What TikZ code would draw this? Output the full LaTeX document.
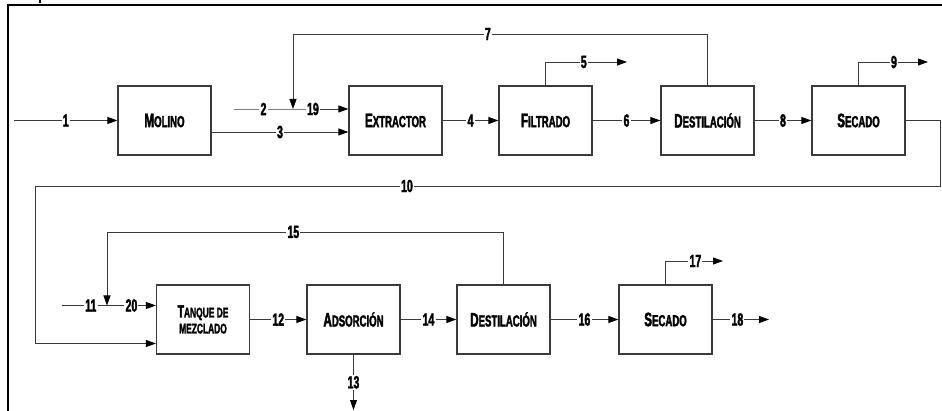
\documentclass[tikz,border=0pt]{standalone}
\usepackage{fontspec}
\usetikzlibrary{arrows.meta,calc}
\newfontfamily\lblfont[FakeStretch=0.6, BoldFeatures={FakeBold=2}]{Liberation Sans}
% small-capital letters of the unit names
\newcommand\smc[1]{{\fontsize{16}{16}\selectfont #1}}
\newcommand\smct[1]{{\fontsize{14}{16}\selectfont #1}}
\definecolor{linegray}{HTML}{3A3A3A}
\tikzset{
  unit/.style={draw=linegray, line width=1.2pt, minimum width=93pt, minimum height=69pt,
    inner sep=0pt, align=center, font=\lblfont\bfseries\fontsize{19.5}{16}\selectfont},
  lab/.style={fill=white, inner sep=1.2pt, text=black,
    font=\lblfont\bfseries\fontsize{17.5}{16}\selectfont},
  flow/.style={draw=linegray, line width=0.9pt, -{Triangle[length=10pt,width=7pt,color=black]}},
}
\begin{document}
\begin{tikzpicture}[x=1pt,y=-1pt]
\useasboundingbox (0,0) rectangle (942,411);
% page frame
\draw[line width=1.8pt] (7.8,411) -- (7.8,5) -- (942,5);
\draw[line width=2pt] (40,0) -- (40,3);

% first line of units
\node[unit] (molino)    at (164.5,120.5) {M\smc{OLINO}};
\node[unit] (extractor) at (395.5,120.5) {E\smc{XTRACTOR}};
\node[unit] (filtrado)  at (545.5,120.5) {F\smc{ILTRADO}};
\node[unit] (dest1)     at (707.5,120.5) {D\smc{ESTILACIÓN}};
\node[unit] (sec1)      at (858.5,120.5) {S\smc{ECADO}};

% second line of units
\node[unit, font=\lblfont\bfseries\fontsize{17.5}{16}\selectfont] (tanque) at (203,319.5)
  {T\smct{ANQUE DE}\\\smct{MEZCLADO}};
\node[unit] (ads)   at (353.5,319.5) {A\smc{DSORCIÓN}};
\node[unit] (dest2) at (503.5,319.5) {D\smc{ESTILACIÓN}};
\node[unit] (sec2)  at (665.5,319.5) {S\smc{ECADO}};

% stream ends and bends
\coordinate (s1)  at (14,120.5);
\coordinate (s2)  at (234,109);
\coordinate (j19) at (293,109);
\coordinate (r7)  at (293,34);
\coordinate (m3)  at ($(molino.east)+(0,11.5)$);
\coordinate (o5)  at (627,62);
\coordinate (o9)  at (928,62);
\coordinate (b10) at (940,186);
\coordinate (l10) at (35,186);
\coordinate (e10) at (35,343.5);
\coordinate (s11) at (62,305.5);
\coordinate (j20) at (107,305.5);
\coordinate (r15) at (107,232);
\coordinate (o13) at (353.5,410);
\coordinate (o17) at (723,261);
\coordinate (o18) at (769,319.5);

% streams
\draw[flow] (s1) -- node[lab]{1} (molino);
\draw[flow] (s2) -- node[lab]{2} (j19) -- node[lab,pos=0.36]{19} (extractor.west |- j19);
\draw[flow] (m3) -- node[lab]{3} (extractor.west |- m3);
\draw[flow] (dest1.north) -- (dest1.north |- r7) -- node[lab,pos=0.53]{7} (r7) -- (j19);
\draw[flow] (extractor) -- node[lab]{4} (filtrado);
\draw[flow] (filtrado.north) |- node[lab,pos=0.735]{5} (o5);
\draw[flow] (filtrado) -- node[lab]{6} (dest1);
\draw[flow] (dest1) -- node[lab]{8} (sec1);
\draw[flow] (sec1.north) |- node[lab,pos=0.755]{9} (o9);
\draw[flow] (sec1.east) -| (b10) -- node[lab,pos=0.589]{10} (l10) -- (e10) -- (tanque.west |- e10);
\draw[flow] (s11) -- node[lab,pos=0.64]{11} (j20) -- node[lab]{20} (tanque.west |- j20);
\draw[flow] (dest2.north) |- node[lab,pos=0.765]{15} (r15) -- (j20);
\draw[flow] (tanque) -- node[lab]{12} (ads);
\draw[flow] (ads.south) -- node[lab]{13} (o13);
\draw[flow] (ads) -- node[lab]{14} (dest2);
\draw[flow] (dest2) -- node[lab]{16} (sec2);
\draw[flow] (sec2.north) |- node[lab,pos=0.76]{17} (o17);
\draw[flow] (sec2) -- node[lab,pos=0.44]{18} (o18);
\end{tikzpicture}
\end{document}
